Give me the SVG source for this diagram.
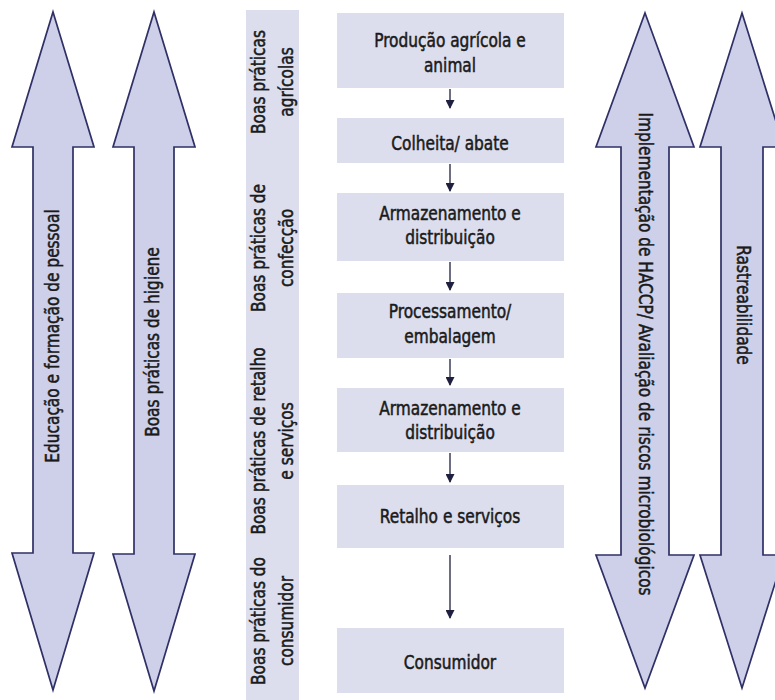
<svg xmlns="http://www.w3.org/2000/svg" width="775" height="700" viewBox="0 0 775 700">
<defs>
<style>
.big{fill:#cdd0e8;stroke:#2f3066;stroke-width:1.7;stroke-linejoin:miter}
.bar{fill:#dcdeee}
.box{fill:#dcdeee}
text{font-family:"DejaVu Sans Condensed","DejaVu Sans",sans-serif;font-stretch:condensed;font-size:19px;fill:#1a1a1a;stroke:#1a1a1a;stroke-width:0.5;text-anchor:middle}
.con{stroke:#1f2040;stroke-width:1.3;fill:none;marker-end:url(#ah)}
</style>
<marker id="ah" markerWidth="9" markerHeight="9" refX="8" refY="4.5" orient="auto" markerUnits="userSpaceOnUse">
<path d="M0,0 L9,4.5 L0,9 z" fill="#1f2040"/>
</marker>
</defs>
<rect width="775" height="700" fill="#ffffff"/>

<g id="arrow-educacao">
<polygon class="big" points="53,12 94,147 73,147 73,553 94,553 53,690 12,553 33,553 33,147 12,147"/>
<text transform="translate(59,336) rotate(-90) scale(0.9,1)">Educação e formação de pessoal</text>
</g>
<g id="arrow-higiene">
<polygon class="big" points="154,12 195,147 174,147 174,554 195,554 154,691 113,554 134,554 134,147 113,147"/>
<text transform="translate(159,342) rotate(-90) scale(0.9,1)">Boas práticas de higiene</text>
</g>
<g id="arrow-haccp">
<polygon class="big" points="645,13 694,147 669,147 669,555 694,555 645,688 596,555 621,555 621,147 596,147"/>
<text transform="translate(639,354) rotate(90) scale(0.9,1)">Implementação de HACCP/ Avaliação de riscos microbiológicos</text>
</g>
<g id="arrow-rastreabilidade">
<polygon class="big" points="742,13 784,147 763,147 763,555 784,555 742,688 700,555 721,555 721,147 700,147"/>
<text transform="translate(737,305) rotate(90) scale(0.9,1)">Rastreabilidade</text>
</g>

<g id="bar">
<rect class="bar" x="246" y="10" width="53" height="690"/>
<text transform="translate(265,82) rotate(-90) scale(0.9,1)">Boas práticas</text>
<text transform="translate(293,82) rotate(-90) scale(0.9,1)">agrícolas</text>
<text transform="translate(265,248) rotate(-90) scale(0.9,1)">Boas práticas de</text>
<text transform="translate(293,248) rotate(-90) scale(0.9,1)">confecção</text>
<text transform="translate(265,441) rotate(-90) scale(0.9,1)">Boas práticas de retalho</text>
<text transform="translate(293,441) rotate(-90) scale(0.9,1)">e serviços</text>
<text transform="translate(265,621) rotate(-90) scale(0.9,1)">Boas práticas do</text>
<text transform="translate(293,621) rotate(-90) scale(0.9,1)">consumidor</text>
</g>

<g id="box-producao">
<rect class="box" x="337" y="13" width="227" height="75"/>
<text transform="translate(450,0) scale(0.9,1)" y="47">Produção agrícola e</text>
<text transform="translate(450,0) scale(0.9,1)" y="72">animal</text>
</g>
<g id="box-colheita">
<rect class="box" x="337" y="118" width="227" height="45"/>
<text transform="translate(450,0) scale(0.9,1)" y="150">Colheita/ abate</text>
</g>
<g id="box-armazenamento1">
<rect class="box" x="337" y="193" width="227" height="68"/>
<text transform="translate(450,0) scale(0.9,1)" y="220">Armazenamento e</text>
<text transform="translate(450,0) scale(0.9,1)" y="244">distribuição</text>
</g>
<g id="box-processamento">
<rect class="box" x="337" y="293" width="227" height="65"/>
<text transform="translate(450,0) scale(0.9,1)" y="318">Processamento/</text>
<text transform="translate(450,0) scale(0.9,1)" y="343">embalagem</text>
</g>
<g id="box-armazenamento2">
<rect class="box" x="337" y="388" width="227" height="64"/>
<text transform="translate(450,0) scale(0.9,1)" y="415">Armazenamento e</text>
<text transform="translate(450,0) scale(0.9,1)" y="439">distribuição</text>
</g>
<g id="box-retalho">
<rect class="box" x="337" y="485" width="227" height="63"/>
<text transform="translate(450,0) scale(0.9,1)" y="523">Retalho e serviços</text>
</g>
<g id="box-consumidor">
<rect class="box" x="337" y="628" width="227" height="65"/>
<text transform="translate(450,0) scale(0.9,1)" y="669">Consumidor</text>
</g>

<g id="connectors">
<line class="con" x1="450" y1="89" x2="450" y2="108"/>
<line class="con" x1="450" y1="164" x2="450" y2="191"/>
<line class="con" x1="450" y1="262" x2="450" y2="290"/>
<line class="con" x1="450" y1="359" x2="450" y2="385"/>
<line class="con" x1="450" y1="453" x2="450" y2="482"/>
<line class="con" x1="450" y1="555" x2="450" y2="618"/>
</g>
</svg>
